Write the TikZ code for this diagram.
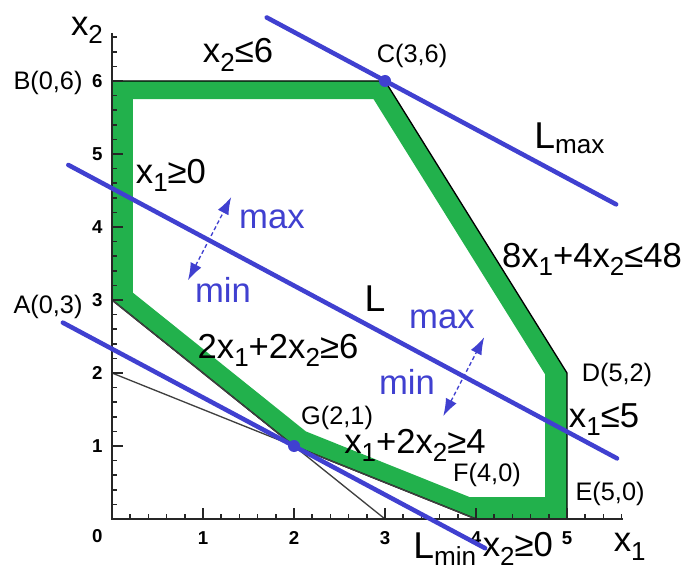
\documentclass[tikz,border=0pt]{standalone}
\usepackage{fontspec}
\setmainfont{Liberation Sans}
\usepackage{xcolor}
\usetikzlibrary{arrows.meta}
\definecolor{bandgreen}{RGB}{34,177,76}
\definecolor{objblue}{RGB}{64,64,208}
\newcommand{\lo}[1]{\raisebox{-0.25em}{\scalebox{0.75}{#1}}}

\begin{document}
\begin{tikzpicture}[x=68.25pt, y=54.75pt] % 1 unit = one step of x1 / x2
        % Define styles
        \tikzstyle{cons} = [inner sep=0pt, anchor=base, font=\fontsize{26}{30}\selectfont]
        \tikzstyle{ptname} = [inner sep=0pt, anchor=base, font=\fontsize{19}{22}\selectfont]
        \tikzstyle{ticknum} = [inner sep=0pt, font=\bfseries\fontsize{14}{16}\selectfont]
        \tikzstyle{dirtext} = [inner sep=0pt, anchor=base, text=objblue, font=\fontsize{26}{30}\selectfont]
        \tikzstyle{lname} = [inner sep=0pt, anchor=base, font=\fontsize{28}{32}\selectfont]
        \tikzstyle{objline} = [objblue, line width=3.4pt, line cap=round]
        \tikzstyle{guide} = [black!75, line width=1pt]
        \tikzstyle{axis} = [black!85, line width=1.2pt]
        \tikzstyle{dblarrow} = [objblue, line width=1pt, densely dashed, {Latex[length=13pt,width=9pt]}-{Latex[length=13pt,width=9pt]}]
        \tikzstyle{optdot} = [circle, fill=objblue, inner sep=0pt, minimum size=9pt]

        \useasboundingbox (-1.2308,-0.7123) rectangle (6.2967,7.1096);

        % Corners of the feasible region
        \coordinate (A) at (0,3);
        \coordinate (B) at (0,6);
        \coordinate (C) at (3,6);
        \coordinate (D) at (5,2);
        \coordinate (E) at (5,0);
        \coordinate (F) at (4,0);
        \coordinate (G) at (2,1);
        % inner edge of the green band
        \coordinate (Ai) at (0.23,3.10);
        \coordinate (Bi) at (0.23,5.75);
        \coordinate (Ci) at (2.875,5.75);
        \coordinate (Di) at (4.76,1.98);
        \coordinate (Ei) at (4.76,0.30);
        \coordinate (Fi) at (3.93,0.30);
        \coordinate (Gi) at (2.13,1.20);

        \fill[bandgreen, even odd rule] (A) -- (B) -- (C) -- (D) -- (E) -- (F) -- (G) -- cycle
            (Ai) -- (Bi) -- (Ci) -- (Di) -- (Ei) -- (Fi) -- (Gi) -- cycle;
        \draw[black, line width=1pt] (A) -- (B) -- (C) -- (D) -- (E) -- (F) -- (G) -- cycle;

        % Constraint lines through A and F
        \coordinate (H) at (3,0);
        \coordinate (K) at (0,2);
        \draw[guide] (A) -- (H);
        \draw[guide] (K) -- (F);

        % Axes
        \coordinate (O) at (0,0);
        \coordinate (Xend) at (5.62,0);
        \coordinate (Yend) at (0,6.66);
        \draw[axis, line width=1.5pt] (Yend) -- (O) -- (Xend);
        \foreach \i in {1,...,33} \draw[axis] (0,\i/5) -- ++(4pt,0);
        \foreach \i in {1,...,28} \draw[axis] (\i/5,0) -- ++(0,4pt);
        \foreach \k in {1,...,6} \draw[axis] (0,\k) -- ++(8pt,0);
        \foreach \k in {1,...,5} \draw[axis] (\k,0) -- ++(0,8pt);
        \foreach \k in {1,...,6} \node[ticknum, anchor=east] (ty\k) at ([xshift=-7pt]0,\k) {\k};
        \foreach \k in {1,...,5} \node[ticknum, anchor=north] (tx\k) at ([yshift=-9pt]\k,0) {\k};
        \node[ticknum, anchor=north east] (t0) at ([xshift=-7pt,yshift=-8pt]O) {0};
        \node[cons] (x1lab) at (5.69,-0.45) {x\lo{1}};
        \node[cons] (x2lab) at (-0.275,6.63) {x\lo{2}};

        % Objective lines
        \coordinate (Lmax1) at (1.70,6.87);
        \coordinate (Lmax2) at (5.54,4.31);
        \coordinate (L1) at (-0.48,4.85);
        \coordinate (L2) at (5.55,0.83);
        \coordinate (Lmin1) at (-0.54,2.69);
        \coordinate (Lmin2) at (4.10,-0.40);
        \draw[objline] (Lmax1) -- (Lmax2);
        \draw[objline] (L1) -- (L2);
        \draw[objline] (Lmin1) -- (Lmin2);

        % Direction arrows
        \coordinate (up1) at (1.31,4.41);
        \coordinate (dn1) at (0.835,3.27);
        \coordinate (up2) at (4.09,2.49);
        \coordinate (dn2) at (3.64,1.41);
        \draw[dblarrow] (dn1) -- (up1);
        \draw[dblarrow] (dn2) -- (up2);

        \node[optdot] (dotC) at (C) {};
        \node[optdot] (dotG) at (G) {};

        % Constraint labels
        \node[cons] (c6) at (1.385,6.247) {x\lo{2}≤6};
        \node[cons] (c0) at (0.648,4.60) {x\lo{1}≥0};
        \node[cons] (c48) at (5.275,3.452) {8x\lo{1}+4x\lo{2}≤48};
        \node[cons] (c66) at (1.824,2.205) {2x\lo{1}+2x\lo{2}≥6};
        \node[cons] (c4) at (3.33,0.904) {x\lo{1}+2x\lo{2}≥4};
        \node[cons] (c5) at (5.407,1.26) {x\lo{1}≤5};
        \node[cons] (cx2) at (4.46,-0.52) {x\lo{2}≥0};

        % Line names and directions
        \node[lname] (lL) at (2.89,2.836) {L};
        \node[lname] (lLmax) at (5.03,5.08) {L\textsubscript{max}};
        \node[lname] (lLmin) at (3.66,-0.54) {L\textsubscript{min}};
        \node[dirtext] (max1) at (1.758,3.986) {max};
        \node[dirtext] (min1) at (1.22,2.97) {min};
        \node[dirtext] (max2) at (3.626,2.616) {max};
        \node[dirtext] (min2) at (3.242,1.699) {min};

        % Corner names
        \node[ptname] (nB) at (-0.703,5.877) {B(0,6)};
        \node[ptname] (nA) at (-0.703,2.82) {A(0,3)};
        \node[ptname] (nC) at (3.297,6.247) {C(3,6)};
        \node[ptname] (nD) at (5.549,1.877) {D(5,2)};
        \node[ptname] (nE) at (5.473,0.26) {E(5,0)};
        \node[ptname] (nF) at (4.121,0.507) {F(4,0)};
        \node[ptname] (nG) at (2.473,1.29) {G(2,1)};
\end{tikzpicture}
\end{document}
